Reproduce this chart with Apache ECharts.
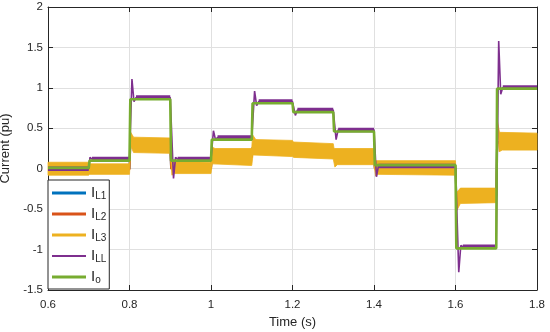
<!DOCTYPE html>
<html><head><meta charset="utf-8">
<script src="https://cdn.jsdelivr.net/npm/echarts/dist/echarts.min.js"></script>
<style>html,body{margin:0;padding:0;background:#fff}#c{width:550px;height:332px}</style>
</head><body><div id="c"></div><script>
// ---- data ----
const xTicks = [0.6, 0.8, 1.0, 1.2, 1.4, 1.6, 1.8];
const yTicks = [-1.5, -1, -0.5, 0, 0.5, 1, 1.5, 2];
const stepTimes = [0.6, 0.7, 0.8, 0.9, 1.0, 1.1, 1.2, 1.3, 1.4, 1.6, 1.7, 1.8];
const ioLevels  = [0.01, 0.10, 0.86, 0.10, 0.36, 0.81, 0.70, 0.46, 0.045, -0.985, 0.99];
const illLevels = [0.00, 0.12, 0.88, 0.12, 0.385, 0.83, 0.725, 0.48, 0.035, -0.965, 1.005];
const il1Levels = [0.00, 0.00, 0.29, 0.01, 0.15, 0.26, 0.23, 0.15, 0.01, -0.33, 0.33];
const il2Levels = [0.00, -0.01, 0.28, 0.00, 0.14, 0.26, 0.22, 0.14, 0.00, -0.34, 0.32];
// transient excursions of I_LL after each step (index = step boundary)
const illTransients = [
  [],
  [[0.703, 0.14]],
  [[0.806, 1.11], [0.811, 0.83]],
  [[0.908, -0.12], [0.913, 0.14]],
  [[1.006, 0.47], [1.011, 0.36]],
  [[1.107, 0.96], [1.112, 0.78]],
  [[1.207, 0.66]],
  [[1.307, 0.36]],
  [[1.406, -0.10]],
  [[1.608, -1.28], [1.613, -0.95]],
  [[1.706, 1.58], [1.711, 0.92]]
];
// ripple envelope of I_L3 (upper and lower edges)
const il3Upper = [
  [0.6, 0.08], [0.7, 0.08], [0.701, 0.06], [0.8, 0.06],
  [0.802, 0.46], [0.81, 0.39], [0.9, 0.38],
  [0.902, 0.09], [1.0, 0.08],
  [1.002, 0.27], [1.01, 0.25], [1.1, 0.25],
  [1.102, 0.42], [1.11, 0.36], [1.2, 0.35],
  [1.202, 0.33], [1.3, 0.31],
  [1.302, 0.25], [1.4, 0.25],
  [1.402, 0.10], [1.6, 0.10],
  [1.602, -0.30], [1.612, -0.24], [1.7, -0.24],
  [1.702, 0.62], [1.708, 0.45], [1.8, 0.44]
];
const il3Lower = [
  [0.6, -0.08], [0.7, -0.08], [0.702, -0.07], [0.8, -0.07],
  [0.803, 0.28], [0.81, 0.20], [0.9, 0.19],
  [0.904, -0.08], [0.91, -0.06], [1.0, -0.06],
  [1.003, 0.06], [1.1, 0.04],
  [1.103, 0.17], [1.2, 0.15],
  [1.203, 0.14], [1.3, 0.12],
  [1.304, 0.02], [1.31, 0.05], [1.4, 0.05],
  [1.404, -0.09], [1.41, -0.07], [1.6, -0.08],
  [1.603, -0.52], [1.612, -0.43], [1.7, -0.42],
  [1.704, 0.40], [1.707, 0.21], [1.715, 0.23], [1.8, 0.23]
];

const C1 = '#0072BD', C2 = '#D95319', C3 = '#EDB120', CLL = '#7E2F8E', CO = '#77AC30';
const TXT = '#262626', FONT = '"Liberation Sans", Arial, sans-serif';

function stepSeries(levels, rise) {
  const d = [[stepTimes[0], levels[0]]];
  for (let k = 1; k < levels.length; k++) {
    d.push([stepTimes[k], levels[k - 1]]);
    d.push([stepTimes[k] + rise, levels[k]]);
  }
  d.push([stepTimes[stepTimes.length - 1], levels[levels.length - 1]]);
  return d;
}
function settleTime(k) {
  if (k === 0) return stepTimes[0];
  const tr = illTransients[k];
  return tr.length ? tr[tr.length - 1][0] + 0.005 : stepTimes[k] + 0.002;
}
function illLine() {
  const d = [[stepTimes[0], illLevels[0]]];
  for (let k = 1; k < illLevels.length; k++) {
    d.push([stepTimes[k], illLevels[k - 1]]);
    illTransients[k].forEach(p => d.push(p));
    d.push([settleTime(k), illLevels[k]]);
  }
  d.push([stepTimes[stepTimes.length - 1], illLevels[illLevels.length - 1]]);
  return d;
}
function illBand() {
  const d = [];
  for (let k = 0; k < illLevels.length; k++) {
    d.push([settleTime(k), illLevels[k]]);
    d.push([stepTimes[k + 1], illLevels[k]]);
    d.push(null);
  }
  return d;
}

const chart = echarts.init(document.getElementById('c'), null, {renderer: 'canvas'});
const axisLineStyle = {color: TXT, width: 1};
const thick = 'path://M0,0H36V3H0Z', thin = 'path://M0,0H36V2H0Z';
chart.setOption({
  animation: false,
  backgroundColor: '#fff',
  grid: {left: 48, right: 13, top: 7, bottom: 42, containLabel: false, outerBoundsMode: 'none'},
  xAxis: [{
    type: 'value', min: xTicks[0], max: xTicks[xTicks.length - 1], interval: 0.2,
    name: 'Time (s)', nameLocation: 'middle', nameGap: 25,
    nameTextStyle: {color: TXT, fontSize: 13, fontFamily: FONT},
    axisLine: {show: true, onZero: false, lineStyle: axisLineStyle},
    axisTick: {show: true, inside: true, length: 5, lineStyle: axisLineStyle},
    axisLabel: {color: TXT, fontSize: 11.5, fontFamily: FONT, margin: 9},
    splitLine: {show: true, lineStyle: {color: '#e0e0e0', width: 1}}
  }, {
    type: 'value', position: 'top', min: xTicks[0], max: xTicks[xTicks.length - 1], interval: 0.2,
    axisLine: {show: true, onZero: false, lineStyle: axisLineStyle},
    axisTick: {show: true, inside: true, length: 5, lineStyle: axisLineStyle},
    axisLabel: {show: false}, splitLine: {show: false}
  }],
  yAxis: [{
    type: 'value', min: yTicks[0], max: yTicks[yTicks.length - 1], interval: 0.5,
    name: 'Current (pu)', nameLocation: 'middle', nameGap: 24,
    nameTextStyle: {color: TXT, fontSize: 13, fontFamily: FONT},
    axisLine: {show: true, onZero: false, lineStyle: axisLineStyle},
    axisTick: {show: true, inside: true, length: 5, lineStyle: axisLineStyle},
    axisLabel: {color: TXT, fontSize: 11.5, fontFamily: FONT, margin: 5},
    splitLine: {show: true, lineStyle: {color: '#e0e0e0', width: 1}}
  }, {
    type: 'value', position: 'right', min: yTicks[0], max: yTicks[yTicks.length - 1], interval: 0.5,
    axisLine: {show: true, onZero: false, lineStyle: axisLineStyle},
    axisTick: {show: true, inside: true, length: 5, lineStyle: axisLineStyle},
    axisLabel: {show: false}, splitLine: {show: false}
  }],
  legend: {
    orient: 'vertical', left: 48, top: 180, z: 10,
    padding: [4, 3, 4, 4], itemGap: 4, itemWidth: 34, itemHeight: 3,
    backgroundColor: '#fff', borderColor: TXT, borderWidth: 1, borderRadius: 0,
    selectedMode: false,
    data: [
      {name: 'I_L1', icon: thick}, {name: 'I_L2', icon: thick}, {name: 'I_L3', icon: thick},
      {name: 'I_LL', icon: thin}, {name: 'I_o', icon: thick}
    ],
    formatter: name => '{i|I}{s|' + name.slice(2) + '}',
    textStyle: {
      color: TXT, fontFamily: FONT,
      rich: {
        i: {fontSize: 15, lineHeight: 16, verticalAlign: 'top', color: TXT, fontFamily: FONT},
        s: {fontSize: 10, lineHeight: 10, padding: [7, 0, 0, 0], verticalAlign: 'bottom', color: TXT, fontFamily: FONT}
      }
    }
  },
  series: [
    {name: 'I_L1', type: 'line', z: 1, color: C1, data: stepSeries(il1Levels, 0.002), showSymbol: false, symbol: 'none',
     lineStyle: {color: C1, width: 2}, itemStyle: {color: C1}},
    {name: 'I_L2', type: 'line', z: 1, color: C2, data: stepSeries(il2Levels, 0.002), showSymbol: false, symbol: 'none',
     lineStyle: {color: C2, width: 2}, itemStyle: {color: C2}},
    {name: 'I_L3', type: 'custom', z: 2, coordinateSystem: 'cartesian2d', color: C3, itemStyle: {color: C3},
     data: il3Upper.concat(il3Lower), encode: {x: 0, y: 1},
     renderItem: (params, api) => {
       if (params.dataIndex !== 0) return null;
       const pts = il3Upper.map(p => api.coord(p))
         .concat(il3Lower.slice().reverse().map(p => api.coord(p)));
       return {type: 'polygon', shape: {points: pts}, style: {fill: C3, stroke: C3, lineWidth: 0.8}};
     }},
    {name: 'I_LL ripple', type: 'line', z: 3, color: CLL, data: illBand(), showSymbol: false, symbol: 'none',
     connectNulls: false, lineStyle: {color: CLL, width: 4.5}},
    {name: 'I_LL', type: 'line', z: 3, color: CLL, data: illLine(), showSymbol: false, symbol: 'none',
     lineStyle: {color: CLL, width: 1.6}, itemStyle: {color: CLL}},
    {name: 'I_o', type: 'line', z: 4, color: CO, data: stepSeries(ioLevels, 0.002), showSymbol: false, symbol: 'none',
     lineStyle: {color: CO, width: 2.6}, itemStyle: {color: CO}}
  ]
});
</script></body></html>
